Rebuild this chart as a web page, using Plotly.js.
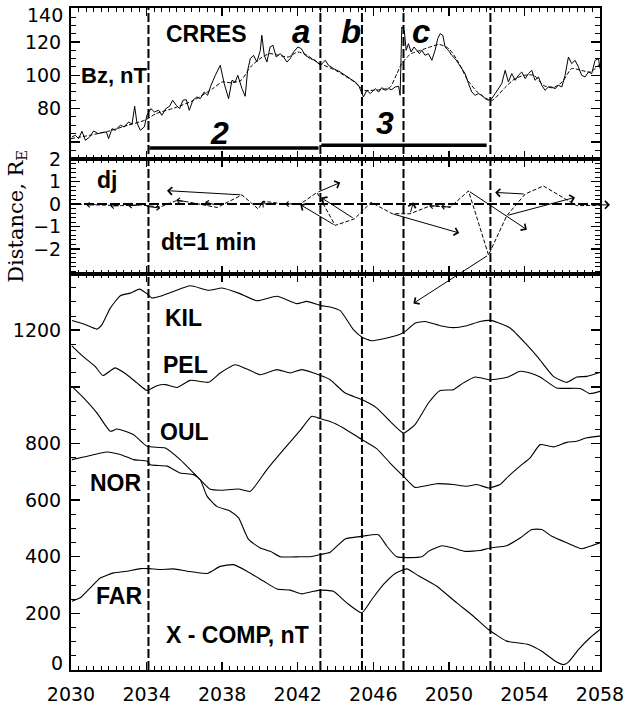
<!DOCTYPE html>
<html>
<head>
<meta charset="utf-8">
<script src="https://cdn.plot.ly/plotly-3.0.1.min.js"></script>
<style>html,body{margin:0;padding:0;background:#fff;}</style>
</head>
<body>
<div id="chart" style="width:627px;height:708px;"></div>
<script>
// ---------- DATA ----------
// time axis (UT, hhmm with minutes as decimal)
const timeTicks = [2030, 2034, 2038, 2042, 2046, 2050, 2054, 2058];
const timeTickText = ['2030', '2034', '2038', '2042', '2046', '2050', '2054', '2058'];

// CRRES Bz, nT (raw)
const bzTime = [2030.05,2030.23,2030.40,2030.58,2030.76,2030.99,2031.20,2031.43,2031.64,2031.87,2031.99,2032.17,2032.34,2032.61,2032.82,2033.05,2033.23,2033.37,2033.49,2033.67,2033.88,2034.02,2034.23,2034.41,2034.64,2034.81,2035.02,2035.22,2035.38,2035.57,2035.75,2035.92,2036.10,2036.26,2036.45,2036.66,2036.84,2037.05,2037.23,2037.41,2037.64,2037.90,2038.11,2038.34,2038.52,2038.69,2038.83,2039.05,2039.22,2039.35,2039.49,2039.66,2039.84,2040.02,2040.10,2040.23,2040.37,2040.54,2040.69,2040.86,2041.07,2041.25,2041.43,2041.60,2041.78,2042.01,2042.19,2042.40,2042.67,2042.93,2043.19,2043.46,2043.63,2043.90,2044.25,2044.51,2044.78,2045.04,2045.22,2045.36,2045.48,2045.66,2045.84,2046.10,2046.28,2046.45,2046.63,2046.81,2046.98,2047.16,2047.34,2047.42,2047.51,2047.64,2047.74,2047.86,2048.00,2048.16,2048.30,2048.44,2048.57,2048.74,2048.92,2049.10,2049.27,2049.41,2049.54,2049.68,2049.80,2049.98,2050.15,2050.33,2050.51,2050.68,2050.86,2051.04,2051.21,2051.39,2051.57,2051.74,2051.92,2052.10,2052.27,2052.45,2052.62,2052.80,2052.98,2053.15,2053.33,2053.51,2053.68,2053.86,2054.04,2054.21,2054.39,2054.56,2054.74,2054.92,2055.09,2055.27,2055.45,2055.62,2055.80,2055.98,2056.15,2056.33,2056.50,2056.68,2056.86,2057.03,2057.21,2057.39,2057.56,2057.74,2057.92,2058.00];
const bzValue = [63,64,62,66.4,61,63,66.6,65,65.6,66,62,68,67,70,69,72,70.6,81.4,71.4,67,69,76,80,78,79,76,80,81.4,85,82,80,85,85.4,79,85,87,86,90,88,94,100,106,95,86,97,96,100,92,87.4,103,110,112,108,115,124,112,108,117,118,111,113,111,108,110,114,117,116,112,110,109,106,109,106,104,102,100,98,96,94,90,87,91,89,92,90,92.6,91,92,91.4,93,93.4,88,129,127,115,119,114,117,115,113,115,112,113,109,115,122,125,124,117,115,112,110,107,104,101,95,90,88,89,88,86,85,86,89,92,95,103,96,101,97,100,102,98,101,103,97,99,94,91,93,93,92,94,93,100,111,107,109,105,100,99,102,101,109,110,104];

// CRRES Bz, nT (smoothed)
const bzSmoothTime = [2030.0,2031.0,2032.0,2033.0,2033.9,2034.5,2035.5,2036.5,2037.5,2038.0,2038.5,2039.0,2039.5,2040.0,2040.5,2041.0,2041.5,2042.0,2042.5,2043.0,2044.0,2045.0,2045.5,2046.0,2046.5,2046.9,2047.25,2047.5,2047.8,2048.0,2048.5,2049.0,2049.5,2050.0,2050.5,2051.0,2051.5,2052.0,2052.3,2053.0,2053.5,2054.0,2054.5,2055.0,2055.5,2056.0,2056.5,2057.0,2057.5,2058.0];
const bzSmoothValue = [62,64,66.5,70,73,77,80.5,85,92,96,95.5,97,105,110,113,112,111,114,112,108,103,96,91,91,91.5,93,101,107,111,113,115,117,118.5,116,108,97,90,86,85,93,98,100,100,94,92.5,96,104,103,102,107];

// Current-jump displacement dj, R_E (dt = 1 min)
const djTime = [2030.05,2031.39,2032.61,2033.67,2034.72,2035.57,2036.10,2037.10,2037.74,2039.05,2039.91,2040.17,2041.34,2042.13,2043.02,2043.98,2045.00,2045.89,2047.00,2047.95,2049.00,2050.07,2051.04,2052.10,2053.07,2054.04,2055.00,2056.77,2058.00];
const djDist = [0.00,-0.02,-0.07,-0.04,-0.13,0.15,0.11,-0.05,-0.15,0.41,-0.22,0.13,0.00,0.00,0.52,-0.95,-0.66,0.08,-0.43,-0.43,-0.08,-0.14,0.59,-2.27,-0.51,0.45,0.81,-0.07,-0.05];
// displacement vectors: tail -> head
const vecTailTime = [2039.05,2043.02,2043.98,2045.00,2047.00,2051.04,2052.10,2054.04,2053.07,2057.47,2031.39,2032.61,2033.67,2033.93,2036.10,2037.69,2040.17,2041.87,2047.95,2049.54,2050.17];
const vecTailDist = [0.41,0.52,-0.95,-0.66,-0.43,0.59,-2.27,0.45,-0.51,-0.04,-0.02,-0.07,-0.04,-0.09,0.11,-0.04,-0.22,0.02,-0.43,-0.07,-0.13];
const vecHeadTime = [2035.08,2044.25,2042.13,2043.24,2050.55,2054.13,2048.12,2052.45,2056.68,2058.53,2030.81,2032.08,2033.03,2034.72,2035.57,2037.10,2040.17,2041.34,2048.12,2048.96,2049.59];
const vecHeadDist = [0.60,0.96,-0.02,0.29,-1.29,-1.14,-4.43,0.52,0.30,-0.03,-0.04,-0.09,-0.07,-0.18,0.18,0.09,0.15,0.00,0.08,-0.09,-0.11];

// Ground magnetometers, X-component, nT
const kilTime = [2030.05,2030.67,2031.37,2031.64,2032.08,2032.61,2033.14,2033.63,2034.02,2034.28,2034.72,2035.43,2036.31,2037.28,2037.99,2038.87,2039.84,2040.90,2041.96,2042.48,2043.22,2043.72,2044.25,2044.95,2045.39,2045.92,2046.54,2047.24,2047.63,2048.21,2048.74,2049.54,2050.24,2050.95,2051.65,2052.27,2053.24,2054.12,2054.74,2055.53,2056.24,2056.77,2057.30,2058.00];
const kilX = [1234,1222,1204,1220,1278,1322,1331,1345,1329,1314,1320,1337,1357,1341,1349,1331,1304,1320,1294,1302,1287,1282,1269,1202,1176,1163,1170,1181,1193,1225,1231,1216,1209,1216,1231,1234,1208,1149,1102,1037,1016,1035,1037,1051];

const pelTime = [2030.05,2030.40,2030.84,2031.28,2031.69,2032.34,2032.96,2033.49,2034.02,2034.55,2034.99,2035.61,2036.31,2037.28,2037.90,2038.69,2039.31,2040.02,2040.90,2041.60,2042.22,2043.22,2043.72,2044.51,2045.39,2046.19,2046.89,2047.60,2048.21,2048.92,2049.54,2050.24,2050.77,2051.39,2052.18,2053.15,2053.77,2054.30,2054.83,2055.71,2056.95,2057.47,2058.00];
const pelX = [1145,1122,1096,1072,1040,1067,1043,1014,987,1004,1008,998,1023,1016,1049,1078,1063,1043,1061,1049,1061,1040,1025,978,955,925,878,837,867,943,987,990,1014,1035,1025,1035,1055,1049,1035,996,994,976,984];

const oulTime = [2030.05,2030.58,2031.37,2032.08,2032.43,2033.31,2034.02,2034.99,2035.78,2036.66,2037.37,2037.90,2038.87,2039.49,2040.37,2041.25,2042.13,2042.75,2043.22,2043.72,2044.42,2045.39,2046.19,2046.89,2047.60,2048.21,2048.65,2049.36,2050.24,2050.95,2051.48,2052.10,2052.71,2053.15,2053.77,2054.30,2054.83,2055.53,2056.24,2056.77,2057.30,2058.00];
const oulX = [1002,967,908,843,851,831,790,784,743,684,638,635,639,631,708,778,846,896,887,878,855,814,781,731,684,645,649,658,655,649,655,643,655,684,720,749,796,788,804,808,820,826];

const norTime = [2030.05,2030.67,2031.90,2032.61,2033.31,2034.02,2034.20,2035.08,2035.78,2036.49,2036.84,2037.20,2037.72,2038.43,2038.87,2039.40,2040.02,2040.55,2041.07,2042.13,2042.66,2043.22,2043.72,2044.51,2045.39,2046.27,2046.72,2047.24,2048.57,2048.92,2049.63,2050.24,2050.86,2051.65,2052.18,2053.06,2053.77,2054.39,2054.92,2055.45,2056.24,2057.03,2057.56,2058.00];
const norX = [743,752,770,761,743,738,725,720,696,690,672,614,578,561,537,461,431,419,400,400,400,408,416,463,472,478,437,400,400,419,439,431,419,422,431,439,466,496,496,472,449,428,439,449];

const farTime = [2030.05,2030.49,2031.02,2031.55,2032.26,2032.96,2033.67,2034.11,2034.73,2035.43,2036.14,2037.20,2037.90,2038.60,2039.31,2040.19,2040.90,2041.60,2042.22,2042.84,2043.22,2043.89,2044.60,2045.39,2045.92,2046.54,2047.16,2047.77,2048.39,2049.36,2050.42,2051.30,2052.10,2053.06,2054.21,2054.92,2055.71,2056.06,2056.33,2056.86,2057.47,2058.00];
const farX = [243,255,290,325,343,349,358,358,355,357,349,341,366,372,349,314,286,282,269,278,282,278,237,202,249,302,341,357,333,296,237,190,143,102,90,66,28,19,28,72,114,143];

// event onsets (vertical lines) and intervals
const eventTimes = [2034.1, 2043.2, 2045.4, 2047.6, 2052.2];
const intervalNames = ['2', '3'];
const intervalStart = [2034.15, 2043.25];
const intervalEnd = [2043.1, 2052.0];
const intervalLevel = [56.4, 58.0];
const phaseNames = ['a', 'b', 'c'];
const phaseTime = [2042.2, 2044.8, 2048.55];

// ---------- TRACES ----------
const K = 'black';
const traces = [
  {x: bzTime, y: bzValue, xaxis: 'x3', yaxis: 'y3', type: 'scatter', mode: 'lines',
   line: {color: K, width: 1}},
  {x: bzSmoothTime, y: bzSmoothValue, xaxis: 'x3', yaxis: 'y3', type: 'scatter', mode: 'lines',
   line: {color: K, width: 1, dash: '4px,2px', shape: 'spline', smoothing: 0.6}},
  {x: djTime, y: djDist, xaxis: 'x2', yaxis: 'y2', type: 'scatter', mode: 'lines',
   line: {color: K, width: 1, dash: '4px,2px'}},
];
[[kilTime, kilX], [pelTime, pelX], [oulTime, oulX], [norTime, norX], [farTime, farX]].forEach(function (s) {
  traces.push({x: s[0], y: s[1], xaxis: 'x', yaxis: 'y', type: 'scatter', mode: 'lines',
    line: {color: K, width: 1.1, shape: 'spline', smoothing: 0.5}});
});

// ---------- LAYOUT ----------
const tickFont = {family: 'DejaVu Sans', size: 19, color: K};
function xAxis(anchor, showLabels) {
  return {
    anchor: anchor, range: [2030, 2058], tickmode: 'array', tickvals: timeTicks, ticktext: timeTickText,
    showticklabels: showLabels, tickfont: tickFont, ticks: 'inside', ticklen: 8, tickwidth: 1.5, tickcolor: K,
    mirror: 'allticks', showline: true, linewidth: 2, linecolor: K, showgrid: false, zeroline: false,
    ticklabelstandoff: 6, ticklabeloverflow: 'allow',
    minor: {tick0: 2030, dtick: 0.4, ticks: 'inside', ticklen: 4, tickwidth: 1, tickcolor: K}
  };
}
function yAxis(domain, range, vals, text, minorStep) {
  return {
    domain: domain, range: range, tickmode: 'array', tickvals: vals, ticktext: text,
    tickfont: tickFont, ticks: 'inside', ticklen: 9, tickwidth: 1.5, tickcolor: K,
    mirror: 'allticks', showline: true, linewidth: 2, linecolor: K, showgrid: false, zeroline: false,
    ticklabelstandoff: 4, ticklabeloverflow: 'allow',
    minor: {dtick: minorStep, ticks: 'inside', ticklen: 5, tickwidth: 1, tickcolor: K}
  };
}

const shapes = [];
eventTimes.forEach(function (t) {
  shapes.push({type: 'line', xref: 'x', yref: 'paper', x0: t, x1: t, y0: 0, y1: 1,
    line: {color: K, width: 2, dash: '9px,3px'}});
});
shapes.push({type: 'line', xref: 'x2', yref: 'y2', x0: 2030, x1: 2058, y0: 0, y1: 0,
  line: {color: K, width: 2, dash: '10px,3px'}});
intervalNames.forEach(function (n, i) {
  shapes.push({type: 'line', xref: 'x3', yref: 'y3', x0: intervalStart[i], x1: intervalEnd[i],
    y0: intervalLevel[i], y1: intervalLevel[i], line: {color: K, width: 3.5}});
});

const LBL = 'Liberation Sans';
function txt(text, x, y, xr, yr, size) {
  return {text: text, x: x, y: y, xref: xr, yref: yr, showarrow: false,
    xanchor: 'center', yanchor: 'middle', font: {family: LBL, size: size, color: K}};
}
// edge tick labels that the original draws pulled inside the frame
function edgeLabel(text, y, yr) {
  return {text: text, x: 0, y: y, xref: 'paper', yref: yr, showarrow: false,
    xanchor: 'right', yanchor: 'middle', xshift: -6, font: tickFont};
}
const annotations = [
  txt('<b>CRRES</b>', 2037.16, 124.6, 'x3', 'y3', 23),
  txt('<b>Bz, nT</b>', 2032.32, 100.0, 'x3', 'y3', 22),
  txt('<b>dj</b>', 2031.9, 1.08, 'x2', 'y2', 23),
  txt('<b>dt=1 min</b>', 2037.26, -1.70, 'x2', 'y2', 23),
  txt('<b>KIL</b>', 2035.94, 1244, 'x', 'y', 23),
  txt('<b>PEL</b>', 2036.05, 1078, 'x', 'y', 23),
  txt('<b>OUL</b>', 2036.0, 842, 'x', 'y', 23),
  txt('<b>NOR</b>', 2032.4, 659, 'x', 'y', 23),
  txt('<b>FAR</b>', 2032.56, 263, 'x', 'y', 23),
  txt('<b>X - COMP, nT</b>', 2038.8, 122, 'x', 'y', 23),
  edgeLabel('140', 136, 'y3'),
  edgeLabel('0', 25, 'y'),
];
phaseNames.forEach(function (n, i) {
  annotations.push(txt('<b><i>' + n + '</i></b>', phaseTime[i], 126, 'x3', 'y3', 33));
});
intervalNames.forEach(function (n, i) {
  annotations.push(txt('<b><i>' + n + '</i></b>', i === 0 ? 2037.85 : 2046.63, i === 0 ? 65.2 : 71.2, 'x3', 'y3', 32));
});
vecTailTime.forEach(function (t, i) {
  const small = Math.abs(vecHeadTime[i] - t) < 1 && Math.abs(vecHeadDist[i] - vecTailDist[i]) < 0.5;
  annotations.push({text: '', x: vecHeadTime[i], y: vecHeadDist[i], ax: t, ay: vecTailDist[i],
    xref: 'x2', yref: 'y2', axref: 'x2', ayref: 'y2', showarrow: true, arrowhead: 4,
    arrowsize: small ? 1.0 : 1.5, arrowwidth: 1, arrowcolor: K, standoff: 0, startstandoff: 0,
    font: {size: 1}});
});

const layout = {
  width: 627, height: 708,
  margin: {l: 71, r: 27, t: 7.5, b: 37.5, pad: 0},
  paper_bgcolor: 'white', plot_bgcolor: 'white', showlegend: false,
  font: {family: 'DejaVu Sans', size: 19, color: K},
  xaxis: xAxis('y', true),
  xaxis2: Object.assign(xAxis('y2', false), {matches: 'x'}),
  xaxis3: Object.assign(xAxis('y3', false), {matches: 'x'}),
  yaxis: yAxis([0, 0.5988], [0, 1400], [0, 200, 400, 600, 800, 1000, 1200, 1400],
    ['', '200', '400', '600', '800', '', '1200', ''], 50),
  yaxis2: Object.assign(yAxis([0.5988, 0.7715], [-3.1, 2.0], [-2, -1, 0, 1, 2],
    ['\u22122', '\u22121', '0', '1', '2'], 0.2),
    {title: {text: 'Distance, R<sub>E</sub>', font: {family: 'DejaVu Serif', size: 21, color: K}, standoff: 4}}),
  yaxis3: yAxis([0.7715, 1], [49.6, 140.4], [60, 80, 100, 120, 140],
    ['', '80', '100', '120', ''], 5),
  shapes: shapes,
  annotations: annotations
};

Plotly.newPlot('chart', traces, layout, {staticPlot: true, displayModeBar: false});
</script>
</body>
</html>
